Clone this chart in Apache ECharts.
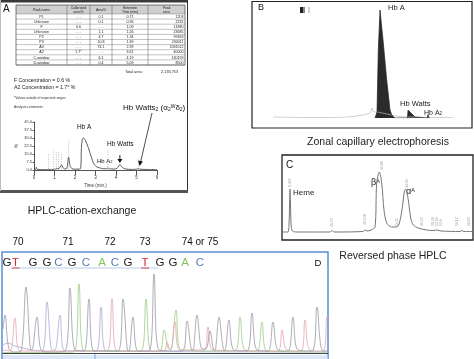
<!DOCTYPE html>
<html><head><meta charset="utf-8">
<script src="https://cdn.jsdelivr.net/npm/echarts@6/dist/echarts.min.js"></script>
<style>html,body{margin:0;padding:0;background:#fff}
#wrap{position:relative;width:474px;height:359px}
#c,#a{position:absolute;left:0;top:0;width:474px;height:359px}</style>
</head><body><div id="wrap"><div id="c"></div><div id="a"></div></div><script>
const F = 'Liberation Sans, Arial, Helvetica, sans-serif';

// ---------- Panel A : table ----------
const tableHeaders = ['Peak name', 'Calibrated\narea%', 'Area%', 'Retention\nTime (min)', 'Peak\narea'];
const peakNames = ['P1', 'Unknown', 'F', 'Unknown', 'P2', 'P3', 'A0', 'A2', 'C-window', 'D-window'];
const calibratedArea = ['- - -', '- - -', '0.6', '- - -', '- - -', '- - -', '- - -', '1.7*', '- - -', '- - -'];
const areaPct = ['0.1', '0.1', '- - -', '1.1', '4.7', '10.8', '74.1', '- - -', '6.1', '0.4'];
const retentionTime = ['0.71', '0.96', '1.09', '1.26', '1.34', '1.69', '2.39', '3.61', '4.19', '5.09'];
const peakArea = ['1203', '2232', '11880', '23685', '99363', '230011', '1581512', '40000', '130159', '8500'];
const totalArea = '2,133,753';

// ---------- Panel A : cation-exchange chromatogram (time min, %) ----------
const hplcTrace = [[0,0.4],[0.08,0.4],[0.11,2.5],[0.15,0.8],[0.25,0.4],[0.6,0.3],[0.7,0.7],[0.78,0.3],[0.95,0.5],[1.0,1.0],[1.05,0.7],[1.1,1.5],[1.17,1.1],[1.26,2.2],[1.34,4.8],[1.42,2.0],[1.5,1.0],[1.6,1.5],[1.69,12],[1.76,4],[1.85,1.2],[2.0,0.8],[2.2,0.8],[2.28,1.5],[2.31,20],[2.36,29],[2.42,30],[2.5,28],[2.65,21],[2.8,12],[2.9,6.5],[3.05,3],[3.2,2],[3.4,1.2],[3.55,1.2],[3.61,2],[3.68,1.1],[3.9,0.9],[4.05,1.5],[4.19,5],[4.3,2.5],[4.45,1],[4.8,0.6],[5.02,0.8],[5.09,1.5],[5.15,0.8],[5.5,0.5],[6,0.4]];
const hplcMarkers = [[0.71,16],[0.96,19],[1.09,17],[1.2,18],[1.34,15],[1.69,28],[3.61,20],[5.09,10]];
const hbWattsArrow = [[4.19,14],[4.19,6.5]];

// ---------- Panel B : zonal capillary electrophoresis ----------
const zceBaseline = [[11,1],[40,0.5],[70,0.5],[85,1],[95,2],[103,3.5],[108,5],[110,10],[111,7],[113,6],[115,6],[120,5],[130,3],[138,1.5],[150,1],[180,0.5],[191,0.5]];
const zcePeaks = [[113,0],[115,6],[116.3,68],[118,108],[121.3,75],[124.7,38],[128,8],[129.7,3],[133,0],[145.5,0],[146,8],[146.8,10],[148,7],[150,4],[153,1],[155,0],[165,0],[166,3],[167,0],[168,0]];

// ---------- Panel C : reversed phase HPLC ----------
const rpTrace = [[0,4],[5,4],[6,12],[6.6,32],[7,47],[7.5,32],[8.2,10],[9.5,5],[14,4],[47,4],[49,5.5],[51,4],[80,4.5],[82,6],[84,5],[88,6],[92,9],[93.7,53],[96.3,64],[98.7,53],[101,26],[103.7,13],[108.7,9],[113.7,9],[116,12],[118.7,24],[121.3,44],[122.7,47],[125.3,36],[127.7,18],[130.3,11],[135.3,8],[143.7,6],[150,5.5],[154,6],[158,5],[177,4.5],[179,5.5],[181,4.5],[190,4.5]];
const rpPeakLabels = [[7,'1.397',49],[49,'21.75',9],[82,'30.748',11],[99,'35.88',66],[114,'42.45',9],[124,'44.00',48],[139,'46.62',10],[150,'51.39',10],[154,'52.06',10],[158,'52.8',10],[174,'56.17',10],[186,'59.63',10]];

// ---------- Panel D : sequencing trace ----------
const traceG = [[0,24],[2,38],[6,4],[12,1],[18,2],[23,66],[28,3],[29,3],[34,36],[39,2],[50,1],[62,2],[67,65],[72,3],[81,2],[86,54],[91,2],[115,2],[120,54],[125,2],[126,2],[130,36],[135,2],[146,2],[151,79],[156,3],[179,2],[184,32],[189,3],[190,3],[194,38],[199,4],[203,4],[207,22],[211,3],[212,3],[216,36],[221,3],[222,3],[226,33],[231,3],[244,2],[249,40],[254,3],[265,2],[270,31],[275,3],[285,2],[290,36],[295,3],[309,2],[314,46],[319,3],[325,2]];
const traceT = [[0,3],[7,2],[12,35],[17,2],[104,2],[109,54],[114,2],[161,2],[164,11],[167,3],[168,3],[172,31],[177,3],[201,3],[205,26],[210,3],[275,2],[279,23],[284,3],[298,2],[302,33],[307,3],[320,2],[324,36],[325,34]];
const traceA = [[0,0.5],[71,1],[76,69],[81,2],[138,2],[143,54],[148,2],[157,2],[161,23],[166,4],[168,4],[173,43],[178,3],[232,2],[237,36],[242,3],[254,2],[259,31],[264,2],[325,1]];
const traceC = [[0,8],[5,10],[12,7],[20,5],[28,3],[39,2],[44,51],[49,3],[52,3],[57,38],[62,2],[93,2],[98,46],[103,2],[325,1]];
const seqBases = ['G','T','G','G','C','G','C','A','C','G','T','G','G','A','C'];
const seqBaseX = [7, 15.5, 33, 47, 58.5, 72, 86, 102, 115, 128, 145, 160, 173, 185, 200];
const codonLabels = ['70', '71', '72', '73', '74 or 75'];
const codonX = [18, 68, 110, 145, 200];
const baseColors = {G: '#1a1a1a', T: '#d8262e', C: '#5a7db8', A: '#86c35a'};

// ---------- helpers ----------
function T(x, y, text, size, opt) {
  opt = opt || {};
  const st = {text: text, fontSize: size, fontFamily: F, fill: opt.fill || '#111',
      textAlign: opt.align || 'left', textVerticalAlign: opt.va || 'middle'};
  if (opt.lh) st.lineHeight = opt.lh;
  return {type: 'text', x: x, y: y, silent: true, style: Object.assign(st, opt.extra || {})};
}
function L(x1, y1, x2, y2, stroke, w, dash) {
  const st = {stroke: stroke, lineWidth: w};
  if (dash) st.lineDash = dash;
  return {type: 'line', silent: true, shape: {x1: x1, y1: y1, x2: x2, y2: y2}, style: st};
}
function R(x, y, w, h, fill, stroke, lw) {
  const st = {};
  st.fill = fill || 'none';
  if (stroke) { st.stroke = stroke; st.lineWidth = lw; }
  return {type: 'rect', silent: true, shape: {x: x, y: y, width: w, height: h}, style: st};
}

const g = [];
g.push(R(0, 0, 188, 2.5, '#3a3a3a'));
g.push(L(187.5, 0, 187.5, 193, '#333', 1));
g.push(R(0, 190, 188, 3, '#555'));
g.push(L(0.5, 0, 0.5, 191, '#bbb', 1));
g.push(T(3, 9.5, 'A', 10));

const colX = [16, 67, 90, 112, 148, 185];
const tTop = 5, hBot = 14, rowH = 5.1;
const tBot = hBot + rowH * peakNames.length;
g.push(R(colX[0], tTop, colX[5] - colX[0], hBot - tTop, '#cfcfcf'));
g.push(R(colX[0], tTop, colX[5] - colX[0], tBot - tTop, null, '#444', 0.7));
for (let i = 1; i < colX.length - 1; i++) g.push(L(colX[i], tTop, colX[i], tBot, '#555', 0.5));
for (let r = 0; r <= peakNames.length; r++) g.push(L(colX[0], hBot + r * rowH, colX[5], hBot + r * rowH, '#666', 0.4));
tableHeaders.forEach((h, i) => {
  g.push(T((colX[i] + colX[i + 1]) / 2, (tTop + hBot) / 2 + 0.3, h, 3.4, {align: 'center', lh: 3.8, fill: '#222'}));
});
const cols = [peakNames, calibratedArea, areaPct, retentionTime, peakArea];
cols.forEach((col, ci) => {
  col.forEach((v, r) => {
    const y = hBot + rowH * (r + 0.5) + 0.2;
    const dash = v.indexOf('- -') === 0;
    if (ci === 4) g.push(T(colX[5] - 1.5, y, v, 3.6, {align: 'right', fill: '#222'}));
    else g.push(T((colX[ci] + colX[ci + 1]) / 2, y, v, 3.6, {align: 'center', fill: dash ? '#aaa' : '#222'}));
  });
});
g.push(T(125, 72, 'Total area:', 3.8, {fill: '#222'}));
g.push(T(178, 72, totalArea, 3.8, {align: 'right', fill: '#222'}));
g.push(T(14, 81, 'F Concentration = 0.6 %', 5.2, {fill: '#222'}));
g.push(T(14, 88, 'A2 Concentration = 1.7* %', 5.2, {fill: '#222'}));
g.push(T(14, 98, '*Values outside of expected ranges', 3.3, {fill: '#333'}));
g.push(T(14, 107, 'Analysis comments:', 3.3, {fill: '#333'}));
g.push(T(123, 108, '{m|Hb Watts}{s|2}{m| (α}{s|2}{p|W}{m|δ}{s|2}{m|)}', 8, {extra: {rich: {
  m: {fontSize: 8, fontFamily: F, fill: '#111'},
  s: {fontSize: 5, fontFamily: F, fill: '#111', verticalAlign: 'bottom'},
  p: {fontSize: 5, fontFamily: F, fill: '#111', verticalAlign: 'top'}}}}));
g.push(L(152, 113, 140.6, 162, '#222', 0.8));
g.push({type: 'polygon', silent: true, shape: {points: [[137.8, 160.5], [142.8, 161.6], [139.7, 166]]}, style: {fill: '#111'}});
g.push(T(77, 127, 'Hb A', 6.5));
g.push(T(97, 161, '{m|Hb A}{s|2}', 6, {extra: {rich: {m: {fontSize: 6, fontFamily: F, fill: '#111'}, s: {fontSize: 4, fontFamily: F, fill: '#111', verticalAlign: 'bottom'}}}}));
g.push(T(107, 144, 'Hb Watts', 6.5));
g.push(T(82, 211, 'HPLC-cation-exchange', 10.5, {align: 'center', fill: '#222'}));

g.push(R(252, 1.5, 220, 126.5, null, '#222', 1.2));
g.push(T(258, 8, 'B', 9));
g.push(R(300, 7, 3.5, 6, '#222'));
g.push(R(303.5, 7, 1.5, 6, '#888'));
g.push(L(309, 7, 309, 13, '#666', 0.6));
g.push(T(388, 8, 'Hb A', 7.5, {fill: '#222'}));
g.push(T(400, 103.5, 'Hb Watts', 7.5, {fill: '#222'}));
g.push(T(424, 113, '{m|Hb A}{s|2}', 7, {extra: {rich: {m: {fontSize: 7, fontFamily: F, fill: '#222'}, s: {fontSize: 4.5, fontFamily: F, fill: '#222', verticalAlign: 'bottom'}}}}));
g.push(T(378, 142, 'Zonal capillary electrophoresis', 10.5, {align: 'center', fill: '#222'}));

g.push(R(282, 155, 191, 85, null, '#222', 1.3));
g.push(T(286, 165, 'C', 10));
g.push(T(293, 193, 'Heme', 8, {fill: '#222'}));
g.push(T(371, 183, '{m|β}{p|A}', 9, {extra: {rich: {m: {fontSize: 9, fontFamily: F, fill: '#222'}, p: {fontSize: 5.5, fontFamily: F, fill: '#222', verticalAlign: 'top'}}}}));
g.push(T(406, 192, '{m|α}{p|A}', 9, {extra: {rich: {m: {fontSize: 9, fontFamily: F, fill: '#222'}, p: {fontSize: 5.5, fontFamily: F, fill: '#222', verticalAlign: 'top'}}}}));
g.push(T(393, 256, 'Reversed phase HPLC', 10.5, {align: 'center', fill: '#222'}));

g.push(R(2, 252, 326, 112, null, '#5b8fd6', 1.5));
g.push(R(3, 355, 324.5, 4, '#dde8f5'));
g.push(L(95, 354, 95, 359, '#7aa3d8', 1));
codonLabels.forEach((c, i) => g.push(T(codonX[i], 242, c, 10, {align: 'center', fill: '#111'})));
g.push(L(12, 268, 158, 268, '#9ab5de', 0.7));
seqBases.forEach((b, i) => {
  g.push(T(seqBaseX[i], 263, b, 11.5, {align: 'center', fill: baseColors[b]}));
  if (b === 'T') g.push(L(seqBaseX[i] - 4, 268, seqBaseX[i] + 4, 268, '#d8262e', 0.8));
});
g.push(T(318, 263, 'D', 9.5, {align: 'center', fill: '#111'}));

const hidden = {show: false};
function lineSeries(xi, data, color, width, smooth, extra) {
  return Object.assign({type: 'line', xAxisIndex: xi, yAxisIndex: xi, data: data, symbol: 'none',
    smooth: smooth, lineStyle: {color: color, width: width}}, extra || {});
}

// ----- main chart: panels B, C, D + annotations -----
const chart = echarts.init(document.getElementById('c'));
chart.setOption({
  animation: false,
  backgroundColor: '#fff',
  grid: [
    {left: 262, right: 12, top: 6, bottom: 241},
    {left: 283, right: 1, top: 160, bottom: 123},
    {left: 3, right: 146, top: 262, bottom: 6}
  ],
  xAxis: [
    {gridIndex: 0, type: 'value', min: 0, max: 200, show: false},
    {gridIndex: 1, type: 'value', min: 0, max: 190, show: false},
    {gridIndex: 2, type: 'value', min: 0, max: 325, axisLine: {show: true, onZero: false, lineStyle: {color: '#444', width: 1}},
      axisTick: hidden, axisLabel: hidden, splitLine: hidden}
  ],
  yAxis: [
    {gridIndex: 0, type: 'value', min: 0, max: 112, show: false},
    {gridIndex: 1, type: 'value', min: 0, max: 76, show: false},
    {gridIndex: 2, type: 'value', min: 0, max: 91, show: false}
  ],
  series: [
    lineSeries(0, zceBaseline, '#bbb', 0.7, 0.3),
    lineSeries(0, zcePeaks, '#222', 0.7, false, {areaStyle: {color: '#2b2b2b', opacity: 1}}),
    lineSeries(1, rpTrace, '#777', 1, 0.3, {
      markPoint: {silent: true, symbol: 'rect', symbolSize: 0.5, itemStyle: {color: 'rgba(0,0,0,0)'},
        data: rpPeakLabels.map(p => ({coord: [p[0], p[2]], value: p[1]})),
        label: {show: true, formatter: p => p.value, rotate: 90, fontSize: 3.5, color: '#999', fontFamily: F,
          position: 'right', distance: 0, align: 'left', verticalAlign: 'middle'}}}),
    lineSeries(2, traceC, '#a7abd4', 0.8, 0.35),
    lineSeries(2, traceA, '#9ccc84', 0.8, 0.35),
    lineSeries(2, traceT, '#e3a4b0', 0.8, 0.35),
    lineSeries(2, traceG, '#9a98a4', 0.8, 0.35)
  ],
  graphic: {elements: g}
});

// ----- overlay chart: panel A chromatogram -----
const chartA = echarts.init(document.getElementById('a'));
chartA.setOption({
  animation: false,
  grid: [{left: 34, right: 317, top: 122, bottom: 189}],
  xAxis: [{gridIndex: 0, type: 'value', min: 0, max: 6, interval: 1, splitLine: hidden,
    axisLabel: {fontSize: 4.5, color: '#333', margin: 5},
    name: 'Time (min.)', nameLocation: 'middle', nameGap: 13, nameTextStyle: {fontSize: 4.5, color: '#333'}}],
  yAxis: [{gridIndex: 0, type: 'value', min: 0, max: 45, interval: 7.5, splitLine: hidden,
    axisLine: {show: true}, axisTick: {show: true, length: 1.5},
    axisLabel: {fontSize: 4, color: '#333', margin: 2, formatter: v => v.toFixed(1)},
    name: '%', nameLocation: 'middle', nameGap: 15, nameTextStyle: {fontSize: 5, color: '#333'}}],
  series: [{type: 'line', xAxisIndex: 0, yAxisIndex: 0, data: hplcTrace, symbol: 'none', smooth: 0.3,
    lineStyle: {color: '#5e5e5e', width: 1}}]
});
const ga = [];
hplcMarkers.forEach(m => {
  const p0 = chartA.convertToPixel({gridIndex: 0}, [m[0], 0.3]);
  const p1 = chartA.convertToPixel({gridIndex: 0}, [m[0], m[1]]);
  ga.push(L(p0[0], p0[1], p1[0], p1[1], '#b5b5b5', 0.7, [1.2, 1.2]));
});
const a0 = chartA.convertToPixel({gridIndex: 0}, hbWattsArrow[0]);
const a1 = chartA.convertToPixel({gridIndex: 0}, hbWattsArrow[1]);
ga.push(L(a0[0], a0[1], a1[0], a1[1] - 3, '#111', 0.9));
ga.push({type: 'polygon', silent: true, shape: {points: [[a1[0] - 2.5, a1[1] - 4], [a1[0] + 2.5, a1[1] - 4], [a1[0], a1[1]]]}, style: {fill: '#111'}});
chartA.setOption({graphic: {elements: ga}});
</script></body></html>
